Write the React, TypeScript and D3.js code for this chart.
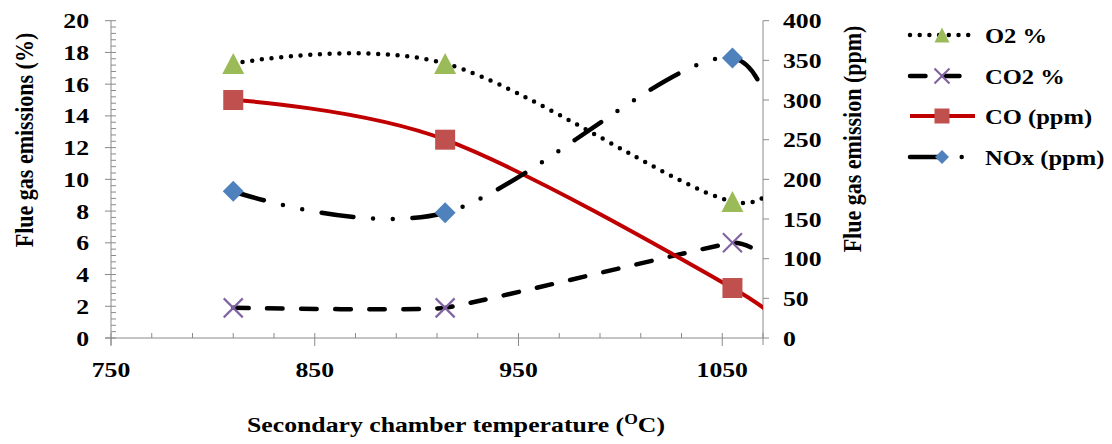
import React from "react";
import * as d3 from "d3";

// ---- data (4th point lies beyond the visible x range and is clipped) ----
const temperatures = [810, 914, 1055, 1080];
const o2Pct = [17.3, 17.3, 8.6, 12.6];
const co2Pct = [1.9, 1.9, 6.0, 4.4];
const coPpm = [300, 250, 63, 7];
const noxPpm = [185, 158, 353, 90];

const xTicks = [750, 850, 950, 1050];
const leftTicks = [0, 2, 4, 6, 8, 10, 12, 14, 16, 18, 20];
const rightTicks = [0, 50, 100, 150, 200, 250, 300, 350, 400];
const seriesNames = ["O2 %", "CO2 %", "CO (ppm)", "NOx (ppm)"];

const FONT = "'Liberation Serif', 'Times New Roman', serif";
const SX = 1.17; // horizontal stretch of the text in the reference

const W = 1112, H = 444;
const PL = 111, PR = 763, PT = 20.7, PB = 338;

const x = d3.scaleLinear().domain([750, 1070]).range([PL, PR]);
const yL = d3.scaleLinear().domain([0, 20]).range([PB, PT]);
const yR = d3.scaleLinear().domain([0, 400]).range([PB, PT]);

const AXIS = "#8a8a8a";

function T({ x: tx, y: ty, anchor = "start", size = 22, rotate = 0, children }: any) {
  const tr = `translate(${tx},${ty}) scale(${SX},1)` + (rotate ? ` rotate(${rotate})` : "");
  return (
    <text transform={tr} textAnchor={anchor} fontFamily={FONT} fontWeight="bold" fontSize={size} fill="#000">
      {children}
    </text>
  );
}

const Triangle = ({ cx, cy, w = 22, h = 21 }: any) => (
  <polygon points={`${cx},${cy - h / 2} ${cx + w / 2},${cy + h / 2} ${cx - w / 2},${cy + h / 2}`} fill="#9BBB59" />
);
const Square = ({ cx, cy, s = 20 }: any) => (
  <rect x={cx - s / 2} y={cy - s / 2} width={s} height={s} fill="#C0504D" />
);
const Diamond = ({ cx, cy, s = 21 }: any) => (
  <polygon points={`${cx},${cy - s / 2} ${cx + s / 2},${cy} ${cx},${cy + s / 2} ${cx - s / 2},${cy}`} fill="#4F81BD" />
);
const Cross = ({ cx, cy, s = 19 }: any) => (
  <g stroke="#8064A2" strokeWidth={2.2}>
    <line x1={cx - s / 2} y1={cy - s / 2} x2={cx + s / 2} y2={cy + s / 2} />
    <line x1={cx - s / 2} y1={cy + s / 2} x2={cx + s / 2} y2={cy - s / 2} />
  </g>
);

const styles = [
  { stroke: "#000", width: 4.5, dash: "0 9.7", cap: "round", tension: 0 },
  { stroke: "#000", width: 4.5, dash: "15.5 18.5", cap: "round", tension: 0.7 },
  { stroke: "#C00000", width: 4, dash: "", cap: "butt", tension: 0 },
  { stroke: "#000", width: 4.5, dash: "32 19.7 0 19.7 0 19.7", cap: "round", tension: 0 },
];

export default function App() {
  const pts = (vals: number[]) => temperatures.map((t, i) => ({ t, v: vals[i] }));
  const mkLine = (y: any, tension: number) =>
    d3.line<any>().x((d) => x(d.t)).y((d) => y(d.v)).curve(d3.curveCardinal.tension(tension));

  const series = [
    { vals: o2Pct, y: yL, M: Triangle },
    { vals: co2Pct, y: yL, M: Cross },
    { vals: coPpm, y: yR, M: Square },
    { vals: noxPpm, y: yR, M: Diamond },
  ].map((s, i) => ({ ...s, d: mkLine(s.y, styles[i].tension)(pts(s.vals)) }));

  const xMinor = d3.range(750, 1071, 20);
  const lMinor = d3.range(0, 20.01, 0.4);

  const legendY = [35, 76, 116, 157];

  return (
    <div style={{ position: "absolute", left: 0, top: 0 }}>
      <svg width={W} height={H} style={{ display: "block", background: "#fff" }}>
        <defs>
          <clipPath id="plot">
            <rect x={PL} y={PT - 15} width={PR - PL} height={PB - PT + 15} />
          </clipPath>
        </defs>

        {/* axes */}
        <g stroke={AXIS} strokeWidth={1}>
          <line x1={PL - 6} y1={PB} x2={PR} y2={PB} />
          <line x1={PL} y1={PT} x2={PL} y2={PB + 7} />
          <line x1={PR} y1={PT} x2={PR} y2={PB + 7} />
          {xMinor.map((v) => (
            <line key={"xm" + v} x1={x(v)} x2={x(v)} y1={PB} y2={PB - 5} />
          ))}
          {xTicks.map((v) => (
            <line key={"xt" + v} x1={x(v)} x2={x(v)} y1={PB} y2={PB + 8} />
          ))}
          {lMinor.map((v, i) => (
            <line key={"lm" + i} x1={PL} x2={PL + 5} y1={yL(v)} y2={yL(v)} />
          ))}
          {leftTicks.map((v) => (
            <line key={"lt" + v} x1={PL - 6} x2={PL} y1={yL(v)} y2={yL(v)} />
          ))}
          {rightTicks.map((v) => (
            <line key={"rt" + v} x1={PR} x2={PR + 6} y1={yR(v)} y2={yR(v)} />
          ))}
        </g>

        {/* tick labels */}
        {leftTicks.map((v) => (
          <T key={"ll" + v} x={89} y={yL(v) + 7.5} anchor="end">{v}</T>
        ))}
        {rightTicks.map((v) => (
          <T key={"rl" + v} x={783} y={yR(v) + 7.5} anchor="start">{v}</T>
        ))}
        {xTicks.map((v) => (
          <T key={"xl" + v} x={x(v)} y={377} anchor="middle">{v}</T>
        ))}

        {/* axis titles */}
        <T x={33} y={140} anchor="middle" rotate={-90}>Flue gas emissions (%)</T>
        <T x={861} y={139} anchor="middle" rotate={-90}>Flue gas emission (ppm)</T>
        <T x={456} y={432} anchor="middle">
          Secondary chamber temperature (<tspan fontSize={15} dy={-8}>O</tspan>
          <tspan dy={8}>C)</tspan>
        </T>

        {/* series */}
        <g clipPath="url(#plot)">
          {series.map((s, i) => (
            <g key={"s" + i}>
              <path
                d={s.d || ""}
                fill="none"
                stroke={styles[i].stroke}
                strokeWidth={styles[i].width}
                strokeDasharray={styles[i].dash || undefined}
                strokeLinecap={styles[i].cap as any}
              />
              {temperatures.map((t, j) => (
                <s.M key={j} cx={x(t)} cy={s.y(s.vals[j])} />
              ))}
            </g>
          ))}
        </g>

        {/* legend */}
        {seriesNames.map((name, i) => {
          const M = series[i].M;
          const y = legendY[i];
          const size = i === 0 ? { w: 15, h: 15 } : i === 1 ? { s: 15 } : i === 2 ? { s: 15 } : { s: 14 };
          return (
            <g key={"lg" + i}>
              <line
                x1={910}
                x2={975}
                y1={y}
                y2={y}
                stroke={styles[i].stroke}
                strokeWidth={styles[i].width}
                strokeDasharray={styles[i].dash || undefined}
                strokeLinecap={styles[i].cap as any}
              />
              <M cx={942} cy={y} {...size} />
              <T x={985} y={y + 7.5} size={21}>{name}</T>
            </g>
          );
        })}
      </svg>
    </div>
  );
}
